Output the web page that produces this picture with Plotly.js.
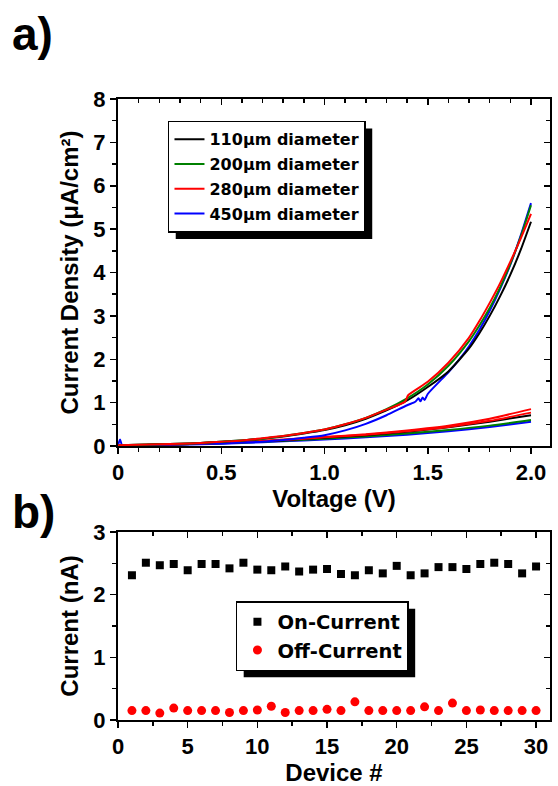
<!DOCTYPE html>
<html><head><meta charset="utf-8">
<script src="https://cdn.plot.ly/plotly-3.0.1.min.js"></script>
<style>body{margin:0;background:#fff}#plot{width:558px;height:786px}</style>
</head><body><div id="plot"></div>
<script>
// ---- panel a) data: J-V sweeps (µA/cm²) ----
const diamLabels = ['110μm diameter','200μm diameter','280μm diameter','450μm diameter'];
const colors = ['#000000','#008000','#ff0000','#0000ff'];

const vUpBlack = [0,0.1,0.2,0.3,0.4,0.5,0.6,0.7,0.8,0.9,1.0,1.1,1.2,1.3,1.4,1.5,1.6,1.7,1.75,1.8,1.85,1.9,1.95,2.0];
const jUpBlack = [0.02,0.03,0.04,0.05,0.07,0.1,0.13,0.17,0.22,0.29,0.37,0.48,0.63,0.82,1.05,1.36,1.72,2.25,2.6,3.0,3.45,3.95,4.52,5.17];
const vUpGreen = [0,0.1,0.2,0.3,0.4,0.5,0.6,0.7,0.8,0.9,1.0,1.1,1.2,1.3,1.4,1.5,1.6,1.7,1.75,1.8,1.85,1.9,1.95,2.0];
const jUpGreen = [0.02,0.03,0.04,0.05,0.07,0.1,0.13,0.17,0.23,0.3,0.38,0.5,0.65,0.85,1.1,1.42,1.85,2.42,2.78,3.18,3.65,4.2,4.82,5.55];
const vUpRed = [0,0.1,0.2,0.3,0.4,0.5,0.6,0.7,0.8,0.9,1.0,1.1,1.2,1.3,1.39,1.405,1.5,1.6,1.7,1.75,1.8,1.85,1.9,1.95,2.0];
const jUpRed = [0.02,0.03,0.04,0.05,0.07,0.1,0.13,0.18,0.23,0.3,0.38,0.5,0.65,0.84,1.02,1.17,1.48,1.92,2.5,2.88,3.3,3.75,4.25,4.78,5.35];
const vUpBlue = [0,0.01,0.02,0.1,0.2,0.3,0.4,0.5,0.6,0.7,0.8,0.9,1.0,1.1,1.2,1.3,1.4,1.44,1.455,1.465,1.475,1.485,1.5,1.6,1.65,1.7,1.75,1.8,1.85,1.9,1.95,2.0];
const jUpBlue = [0.02,0.15,0.02,0.02,0.03,0.04,0.05,0.06,0.08,0.1,0.14,0.19,0.25,0.36,0.51,0.71,0.94,1.02,1.1,1.03,1.12,1.06,1.2,1.7,1.98,2.3,2.68,3.12,3.62,4.18,4.85,5.6];

const vLow = [0,0.2,0.4,0.6,0.8,1.0,1.2,1.4,1.6,1.8,2.0];
const jLowBlack = [0.01,0.03,0.05,0.09,0.13,0.19,0.25,0.33,0.43,0.56,0.71];
const jLowGreen = [0.01,0.03,0.05,0.08,0.12,0.17,0.22,0.29,0.37,0.47,0.6];
const jLowRed = [0.01,0.03,0.06,0.1,0.15,0.21,0.27,0.36,0.47,0.63,0.85];
const jLowRed2 = [0.01,0.03,0.05,0.09,0.14,0.2,0.26,0.34,0.44,0.58,0.77];
const jLowBlue = [0.01,0.02,0.04,0.07,0.11,0.15,0.2,0.26,0.34,0.44,0.56];

// ---- panel b) data ----
const device = [1,2,3,4,5,6,7,8,9,10,11,12,13,14,15,16,17,18,19,20,21,22,23,24,25,26,27,28,29,30];
const onCurrent = [2.31,2.51,2.47,2.49,2.39,2.49,2.49,2.42,2.51,2.40,2.39,2.45,2.37,2.40,2.41,2.33,2.31,2.39,2.34,2.46,2.31,2.34,2.44,2.44,2.41,2.49,2.51,2.49,2.34,2.45];
const offCurrent = [0.15,0.15,0.11,0.19,0.15,0.15,0.15,0.12,0.15,0.16,0.22,0.12,0.15,0.15,0.17,0.15,0.29,0.15,0.15,0.15,0.15,0.21,0.15,0.27,0.15,0.16,0.15,0.15,0.15,0.15];
const seriesB = ['On-Current','Off-Current'];

const FONT = 'Liberation Sans, Arial, sans-serif';
const LEGFONT = 'DejaVu Sans, sans-serif';

function lineTrace(x, y, i, show) {
  return {x: x, y: y, type: 'scatter', mode: 'lines', xaxis: 'x', yaxis: 'y',
    line: {color: colors[i], width: 2, shape: 'spline', smoothing: 0.6},
    name: diamLabels[i], legendgroup: 'g' + i, legendrank: i + 1, showlegend: show, hoverinfo: 'skip'};
}

const traces = [
  lineTrace(vLow, jLowBlue, 3, false),
  lineTrace(vLow, jLowGreen, 1, false),
  lineTrace(vLow, jLowBlack, 0, false),
  lineTrace(vLow, jLowRed2, 2, false),
  lineTrace(vLow, jLowRed, 2, false),
  lineTrace(vUpBlue, jUpBlue, 3, true),
  lineTrace(vUpBlack, jUpBlack, 0, true),
  lineTrace(vUpGreen, jUpGreen, 1, true),
  lineTrace(vUpRed, jUpRed, 2, true),
  {x: device, y: onCurrent, type: 'scatter', mode: 'markers', xaxis: 'x2', yaxis: 'y2',
   marker: {symbol: 'square', size: 8, color: '#000'}, name: seriesB[0], legend: 'legend2', hoverinfo: 'skip'},
  {x: device, y: offCurrent, type: 'scatter', mode: 'markers', xaxis: 'x2', yaxis: 'y2',
   marker: {symbol: 'circle', size: 9, color: '#ff0000'}, name: seriesB[1], legend: 'legend2', hoverinfo: 'skip'},
  {x: [], y: [], xaxis: 'x3', yaxis: 'y3', showlegend: false, hoverinfo: 'skip'},
  {x: [], y: [], xaxis: 'x4', yaxis: 'y4', showlegend: false, hoverinfo: 'skip'}
];

const tickFont = {family: FONT, size: 22, color: '#000', weight: 'bold'};
const titleFont = {family: FONT, size: 24, color: '#000', weight: 'bold'};
const vTickVals = [0, 0.5, 1.0, 1.5, 2.0];
const vTickText = ['0', '0.5', '1.0', '1.5', '2.0'];

function baseAxis(extra) {
  return Object.assign({showgrid: false, zeroline: false, showline: true, linecolor: '#000', linewidth: 2,
    ticks: 'outside', ticklen: 6, tickwidth: 1.5, tickcolor: '#000', tickfont: tickFont, fixedrange: true}, extra);
}

const layout = {
  width: 558, height: 786,
  margin: {l: 118, r: 8, t: 99, b: 66},
  paper_bgcolor: '#fff', plot_bgcolor: '#fff',
  font: {family: FONT, color: '#000'},
  xaxis: baseAxis({domain: [0, 1], anchor: 'y', range: [0, 2.092], tickmode: 'array', tickvals: vTickVals, ticktext: vTickText,
    minor: {dtick: 0.1, tick0: 0, ticks: 'outside', ticklen: 4, tickwidth: 1.5, tickcolor: '#000'},
    title: {text: 'Voltage (V)', font: titleFont, standoff: 0}}),
  yaxis: baseAxis({domain: [0.4412, 1], anchor: 'x', range: [0, 8], dtick: 1, tick0: 0,
    minor: {dtick: 0.5, tick0: 0, ticks: 'outside', ticklen: 4, tickwidth: 1.5, tickcolor: '#000'},
    title: {text: 'Current Density (μA/cm²)', font: titleFont, standoff: 8}}),
  xaxis3: baseAxis({overlaying: 'x', side: 'top', anchor: 'y', range: [0, 2.092], tickmode: 'array', tickvals: vTickVals,
    showticklabels: false, ticks: 'inside',
    minor: {dtick: 0.1, tick0: 0, ticks: 'inside', ticklen: 4, tickwidth: 1.5, tickcolor: '#000'}}),
  yaxis3: baseAxis({overlaying: 'y', side: 'right', anchor: 'x', range: [0, 8], dtick: 1, tick0: 0,
    showticklabels: false, ticks: 'inside',
    minor: {dtick: 0.5, tick0: 0, ticks: 'inside', ticklen: 4, tickwidth: 1.5, tickcolor: '#000'}}),
  xaxis2: baseAxis({domain: [0, 1], anchor: 'y2', range: [0, 31], dtick: 5, tick0: 0,
    minor: {dtick: 2.5, tick0: 0, ticks: 'outside', ticklen: 4, tickwidth: 1.5, tickcolor: '#000'},
    title: {text: 'Device #', font: titleFont, standoff: 2}}),
  yaxis2: baseAxis({domain: [0, 0.3027], anchor: 'x2', range: [0, 3], dtick: 1, tick0: 0,
    minor: {dtick: 0.5, tick0: 0, ticks: 'outside', ticklen: 4, tickwidth: 1.5, tickcolor: '#000'},
    title: {text: 'Current (nA)', font: titleFont, standoff: 8}}),
  xaxis4: baseAxis({overlaying: 'x2', side: 'top', anchor: 'y2', range: [0, 31], dtick: 5, tick0: 0,
    showticklabels: false, ticks: 'inside',
    minor: {dtick: 2.5, tick0: 0, ticks: 'inside', ticklen: 4, tickwidth: 1.5, tickcolor: '#000'}}),
  yaxis4: baseAxis({overlaying: 'y2', side: 'right', anchor: 'x2', range: [0, 3], dtick: 1, tick0: 0,
    showticklabels: false, ticks: 'inside',
    minor: {dtick: 0.5, tick0: 0, ticks: 'inside', ticklen: 4, tickwidth: 1.5, tickcolor: '#000'}}),
  legend: {x: 0.1157, y: 0.965, xanchor: 'left', yanchor: 'top', bgcolor: '#fff', bordercolor: '#000', borderwidth: 1.5,
    font: {family: LEGFONT, size: 16, color: '#000', weight: 'bold'}, traceorder: 'grouped', tracegroupgap: 1},
  legend2: {x: 0.273, y: 0.1916, xanchor: 'left', yanchor: 'top', bgcolor: '#fff', bordercolor: '#000', borderwidth: 1.5,
    font: {family: LEGFONT, size: 19.5, color: '#000', weight: 'bold'}},
  annotations: [
    {text: 'a)', xref: 'paper', yref: 'paper', x: -0.25, y: 1.105, xanchor: 'left', yanchor: 'middle', showarrow: false,
     font: {family: FONT, size: 46, color: '#000', weight: 'bold'}},
    {text: 'b)', xref: 'paper', yref: 'paper', x: -0.25, y: 0.335, xanchor: 'left', yanchor: 'middle', showarrow: false,
     font: {family: FONT, size: 46, color: '#000', weight: 'bold'}}
  ],
  showlegend: true
};

const gd = document.getElementById('plot');
Plotly.newPlot(gd, traces, layout, {staticPlot: true, displayModeBar: false}).then(function () {
  // drop shadows behind the two legends, measured from the rendered legend boxes
  const sz = gd._fullLayout._size;
  const root = gd.getBoundingClientRect();
  const shapes = [];
  ['legend', 'legend2'].forEach(function (cls) {
    const bg = gd.querySelector('g.' + cls + ' rect.bg');
    if (!bg) return;
    const r = bg.getBoundingClientRect();
    const off = 7;
    const x0 = r.left - root.left + off, x1 = r.right - root.left + off;
    const y0 = r.top - root.top + off, y1 = r.bottom - root.top + off;
    shapes.push({type: 'rect', xref: 'paper', yref: 'paper', layer: 'above',
      x0: (x0 - sz.l) / sz.w, x1: (x1 - sz.l) / sz.w,
      y0: 1 - (y0 - sz.t) / sz.h, y1: 1 - (y1 - sz.t) / sz.h,
      fillcolor: '#000', line: {width: 0}});
  });
  return Plotly.relayout(gd, {shapes: shapes});
});
</script>
</body></html>
